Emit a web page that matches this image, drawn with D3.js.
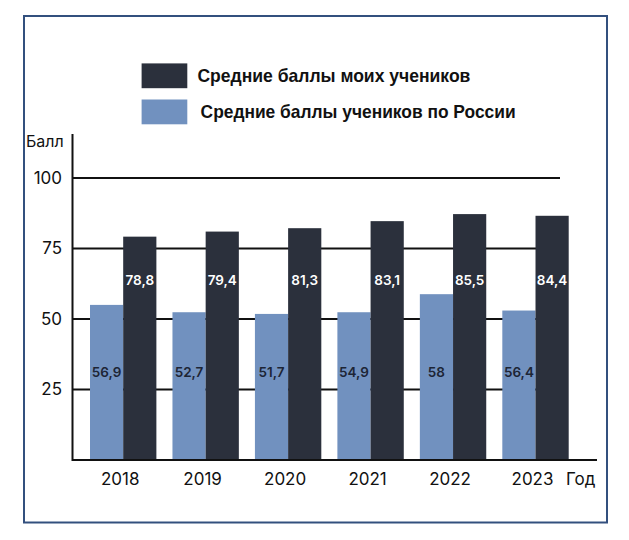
<!DOCTYPE html>
<html><head><meta charset="utf-8">
<script src="https://cdn.jsdelivr.net/npm/d3@7"></script>
<style>body{margin:0;background:#fff}svg{display:block}</style>
</head><body>
<svg id="c" width="629" height="540"></svg>
<script>
const years = ["2018","2019","2020","2021","2022","2023"];
const myValues = [79.2, 81.0, 82.2, 84.7, 87.2, 86.6];
const ruValues = [55.0, 52.4, 51.8, 52.4, 58.8, 53.0];
const myLabels = ["78,8","79,4","81,3","83,1","85,5","84,4"];
const ruLabels = ["56,9","52,7","51,7","54,9","58","56,4"];
const yTicks = [25, 50, 75, 100];
const seriesNames = ["Средние баллы моих учеников", "Средние баллы учеников по России"];
const colors = ["#2b303c", "#7191bf"];

const svg = d3.select("#c");
const font = "Inter, 'Liberation Sans', sans-serif";
// frame
svg.append("rect").attr("x",24).attr("y",16).attr("width",583).attr("height",506.5)
  .attr("fill","none").attr("stroke","#33507e").attr("stroke-width",2);

const y = d3.scaleLinear().domain([0,100]).range([460,178]);
const x = d3.scaleBand().domain(years).range([90,568.7]).paddingInner(0.195).paddingOuter(0);
const xs = d3.scaleBand().domain(["ru","my"]).range([0, x.bandwidth()]);

// gridlines
svg.append("g").selectAll("line").data(yTicks).join("line")
  .attr("x1",72.5).attr("x2",560).attr("y1",d=>y(d)).attr("y2",d=>y(d))
  .attr("stroke","#111").attr("stroke-width",2);

// tick labels
svg.append("g").selectAll("text").data(yTicks).join("text")
  .attr("x",62).attr("y",d=>y(d)).attr("dy","0.35em").attr("text-anchor","end")
  .attr("font-family",font).attr("font-size",17).attr("fill","#111")
  .text(d=>d);

// bars
const g = svg.append("g").selectAll("g").data(years).join("g")
  .attr("transform", d=>`translate(${x(d)},0)`);
g.append("rect").attr("x",xs("ru")).attr("width",xs.bandwidth())
  .attr("y",(d,i)=>y(ruValues[i])).attr("height",(d,i)=>y(0)-y(ruValues[i])).attr("fill",colors[1]);
g.append("rect").attr("x",xs("my")).attr("width",xs.bandwidth())
  .attr("y",(d,i)=>y(myValues[i])).attr("height",(d,i)=>y(0)-y(myValues[i])).attr("fill",colors[0]);
g.append("text").attr("x",xs("ru")+xs.bandwidth()/2).attr("y",y(31.1)).attr("dy","0.35em")
  .attr("text-anchor","middle").attr("font-family",font)
  .attr("font-size",13.5).attr("font-weight",600).attr("fill","#1d2535").text((d,i)=>ruLabels[i]);
g.append("text").attr("x",xs("my")+xs.bandwidth()/2).attr("y",y(63.6)).attr("dy","0.35em")
  .attr("text-anchor","middle").attr("font-family",font)
  .attr("font-size",13.5).attr("font-weight",600).attr("fill","#fff").text((d,i)=>myLabels[i]);

// axes lines
svg.append("line").attr("x1",72.5).attr("x2",72.5).attr("y1",134).attr("y2",461)
  .attr("stroke","#111").attr("stroke-width",2);
svg.append("line").attr("x1",72.5).attr("x2",597).attr("y1",460).attr("y2",460)
  .attr("stroke","#111").attr("stroke-width",2);

// x labels
svg.append("g").selectAll("text").data(years).join("text")
  .attr("x",d=>x(d)+x.bandwidth()/2-3).attr("y",485).attr("text-anchor","middle")
  .attr("font-family",font).attr("font-size",17).attr("fill","#111")
  .text(d=>d);
svg.append("text").attr("x",566).attr("y",485).attr("font-family",font)
  .attr("font-size",17).attr("fill","#111").text("Год");
svg.append("text").attr("x",26).attr("y",147).attr("font-family",font)
  .attr("font-size",16).attr("fill","#111").text("Балл");

// legend
const leg = [{n:seriesNames[0],c:colors[0],y:63.4,tx:197.4,tl:273},{n:seriesNames[1],c:colors[1],y:99.5,tx:200.6,tl:315}];
const lg = svg.append("g").selectAll("g").data(leg).join("g");
lg.append("rect").attr("x",141.6).attr("y",d=>d.y).attr("width",45.7).attr("height",24.8).attr("fill",d=>d.c);
lg.append("text").attr("x",d=>d.tx).attr("y",d=>d.y+12.4).attr("dy","0.35em")
  .attr("font-family","'Liberation Sans', Arial, sans-serif").attr("font-weight","bold").attr("font-size",18.5)
  .attr("fill","#111").attr("textLength",d=>d.tl).attr("lengthAdjust","spacingAndGlyphs").text(d=>d.n);
</script>
</body></html>
